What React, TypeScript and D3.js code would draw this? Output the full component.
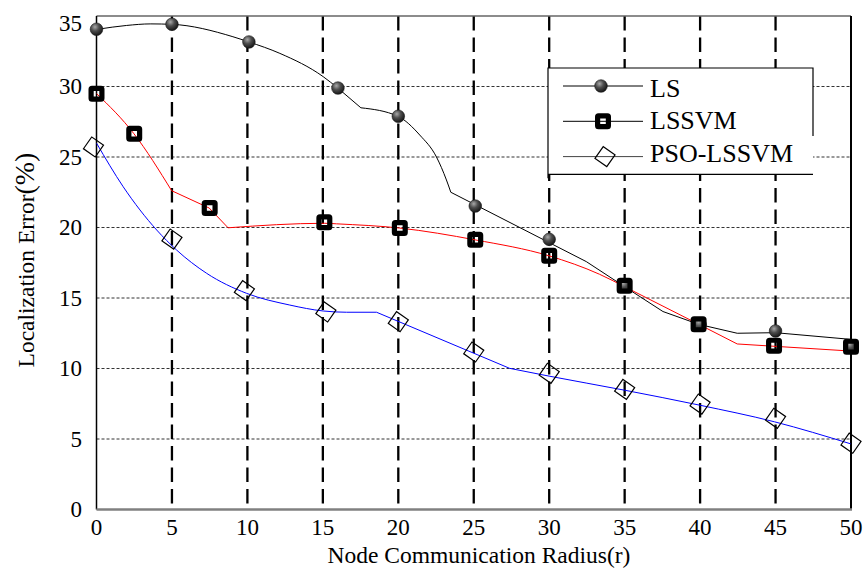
import React from 'react';
import * as d3 from 'd3';

const W = 866;
const H = 571;

const xTickValues = [0, 5, 10, 15, 20, 25, 30, 35, 40, 45, 50];
const yTickValues = [0, 5, 10, 15, 20, 25, 30, 35];
const seriesNames = ['LS', 'LSSVM', 'PSO-LSSVM'];
const xTitle = 'Node Communication Radius(r)';
const yTitleMain = 'Localization Error';
const yTitleUnit = '(%)';

// Marker positions
const lsX = [0, 5, 10.1, 16.0, 20, 25.1, 30, 35, 40, 45, 50];
const lsY = [34.06, 34.41, 33.16, 29.89, 27.89, 21.52, 19.16, 15.87, 13.13, 12.66, 11.55];

const lssvmX = [0, 2.5, 7.5, 15.1, 20.1, 25.1, 30, 35, 39.9, 44.9, 50];
const lssvmY = [29.49, 26.65, 21.38, 20.37, 19.96, 19.13, 18.0, 15.87, 13.13, 11.62, 11.55];

const psoX = [-0.2, 5, 9.8, 15.2, 20, 25, 30, 35, 40, 45, 50];
const psoY = [25.71, 19.18, 15.52, 14.01, 13.32, 11.17, 9.66, 8.52, 7.48, 6.47, 4.7];

// Line vertices (segments; each segment is smoothed, segments meet at kinks)
const lsLine: number[][][] = [
  [[0.08, 34.06], [2.0, 34.33], [3.6, 34.44], [4.98, 34.41], [9.04, 33.53], [10.1, 33.16], [12.15, 32.35], [15.02, 30.7], [15.99, 29.89]],
  [[15.99, 29.89], [17.52, 28.49]],
  [[17.52, 28.49], [19.97, 27.89], [21.42, 26.56], [22.53, 25.0], [23.19, 23.37], [23.48, 22.5]],
  [[23.48, 22.5], [32.46, 17.58]],
  [[32.46, 17.58], [35, 15.8]],
  [[35, 15.8], [37.54, 14.04]],
  [[37.54, 14.04], [39.92, 13.13]],
  [[39.92, 13.13], [42.46, 12.5]],
  [[42.46, 12.5], [44.98, 12.54]],
  [[44.98, 12.54], [49.95, 12.07]],
];

const lssvmLine: number[][][] = [
  [[0.01, 29.49], [2.48, 26.65], [4.98, 22.61]],
  [[4.98, 22.61], [7.47, 21.38]],
  [[7.47, 21.38], [8.72, 19.98]],
  [[8.72, 19.98], [15.13, 20.3], [15.91, 20.26], [20.1, 19.96], [25.11, 19.12], [29.99, 17.99], [33.34, 16.68], [35, 15.8]],
  [[35, 15.8], [39.92, 13.13]],
  [[39.92, 13.13], [42.46, 11.74]],
  [[42.46, 11.74], [49.95, 11.24]],
];

const psoLine: number[][][] = [
  [[0.01, 25.97], [1.77, 22.89], [3.99, 19.82], [5.31, 18.4], [7.3, 16.75], [9.95, 15.33], [12.81, 14.5], [15.02, 14.08], [16.57, 13.99], [18.56, 13.99]],
  [[18.56, 13.99], [27.38, 10.01]],
  [[27.38, 10.01], [29.99, 9.46], [35, 8.46], [39.97, 7.4], [44.93, 6.22], [49.97, 4.66]],
];

const FONT = '"Liberation Serif", "Times New Roman", serif';

function squarePath(s: number, r: number, h: number) {
  const a = s / 2;
  return `M${-a + r},${-a} H${a - r} Q${a},${-a} ${a},${-a + r} V${a - r} Q${a},${a} ${a - r},${a} H${-a + r} Q${-a},${a} ${-a},${a - r} V${-a + r} Q${-a},${-a} ${-a + r},${-a} Z M${-h},${-h} H${h} V${h} H${-h} Z`;
}

const SQ = squarePath(16, 3.5, 2.8);

function Ball({ cx, cy }: { cx: number; cy: number }) {
  return <circle cx={cx} cy={cy} r={6.3} fill="url(#ballGrad)" stroke="#1a1a1a" strokeWidth={0.6} />;
}
function Square({ cx, cy }: { cx: number; cy: number }) {
  return <path d={SQ} transform={`translate(${cx},${cy})`} fill="#000" fillRule="evenodd" />;
}
function Diamond({ cx, cy }: { cx: number; cy: number }) {
  return (
    <rect x={-7.2} y={-7.2} width={14.4} height={14.4} transform={`translate(${cx},${cy}) rotate(35)`}
      fill="none" stroke="#000" strokeWidth={1.2} />
  );
}

export default function App() {
  const x = d3.scaleLinear().domain([0, 50]).range([96.5, 851]);
  const y = d3.scaleLinear().domain([0, 35]).range([509.5, 16]);
  const line = d3.line<number[]>().x((d) => x(d[0])).y((d) => y(d[1])).curve(d3.curveMonotoneX);
  const pathOf = (segs: number[][][]) => segs.map((s) => line(s)).join('');

  const [x0, x1] = x.range();
  const [yb, yt] = y.range();

  const legend = { left: 548, right: 813, top: 68, bottom: 174.3 };
  const legendRows = seriesNames.map((name, i) => ({ name, ly: 86 + i * 35.3, ty: 96.7 + i * 32.5 }));

  return (
    <svg width={W} height={H} style={{ position: 'absolute', left: 0, top: 0, background: '#fff' }} fontFamily={FONT}>
      <defs>
        <radialGradient id="ballGrad" cx="38%" cy="32%" r="70%">
          <stop offset="0%" stopColor="#a8a8a8" />
          <stop offset="45%" stopColor="#4e4e4e" />
          <stop offset="100%" stopColor="#141414" />
        </radialGradient>
      </defs>
      <rect width={W} height={H} fill="#fff" />

      {/* horizontal dotted grid */}
      {yTickValues.filter((v) => v > 0 && v < 35).map((v) => (
        <line key={'h' + v} x1={x0} x2={x1} y1={y(v)} y2={y(v)} stroke="#333" strokeWidth={1} strokeDasharray="3,2" />
      ))}
      {/* vertical heavy dashed grid */}
      {xTickValues.filter((v) => v > 0 && v < 50).map((v) => (
        <line key={'v' + v} x1={x(v)} x2={x(v)} y1={yt} y2={yb} stroke="#000" strokeWidth={2.3} strokeDasharray="14.5,7" />
      ))}

      {/* frame */}
      <line x1={x0} x2={x1} y1={yt} y2={yt} stroke="#666" strokeWidth={1.3} />
      <line x1={x1} x2={x1} y1={yt} y2={yb} stroke="#000" strokeWidth={2} />
      <line x1={x0} x2={x0} y1={yt} y2={yb} stroke="#000" strokeWidth={1.5} />
      <line x1={x0} x2={x1 + 1} y1={yb} y2={yb} stroke="#808080" strokeWidth={2.5} />

      {/* series lines */}
      <path d={pathOf(lsLine)} fill="none" stroke="#000" strokeWidth={1} />
      <path d={pathOf(lssvmLine)} fill="none" stroke="#ff0000" strokeWidth={1} />
      <path d={pathOf(psoLine)} fill="none" stroke="#0000ff" strokeWidth={1} />

      {/* markers */}
      {lsX.map((v, i) => <Ball key={'ls' + i} cx={x(v)} cy={y(lsY[i])} />)}
      {lssvmX.map((v, i) => <Square key={'sv' + i} cx={x(v)} cy={y(lssvmY[i])} />)}
      {psoX.map((v, i) => <Diamond key={'ps' + i} cx={x(v)} cy={y(psoY[i])} />)}

      {/* tick labels */}
      {yTickValues.map((v) => (
        <text key={'yt' + v} x={82} y={Math.max(y(v), 23)} textAnchor="end" dominantBaseline="central" fontSize={23} fill="#000">{v}</text>
      ))}
      {xTickValues.map((v) => (
        <text key={'xt' + v} x={x(v)} y={535} textAnchor="middle" fontSize={23} fill="#000">{v}</text>
      ))}

      {/* axis titles */}
      <text x={479} y={563} textAnchor="middle" fontSize={23.5} fill="#000">{xTitle}</text>
      <text transform="translate(34,260) rotate(-90)" textAnchor="middle" fontSize={23.5} fill="#000">
        {yTitleMain}<tspan fontSize={28}>{yTitleUnit}</tspan>
      </text>

      {/* legend */}
      <rect x={legend.left} y={legend.top} width={legend.right - legend.left} height={legend.bottom - legend.top} fill="#fff" />
      <path d={`M${legend.left},${legend.bottom + 4} V${legend.top} H${legend.right} V${legend.top + 68} M${legend.left},${legend.bottom} H${legend.right}`}
        fill="none" stroke="#000" strokeWidth={1.2} />
      {legendRows.map((r, i) => (
        <g key={'lg' + i}>
          <line x1={563} x2={643} y1={r.ly} y2={r.ly} stroke={i === 2 ? '#444' : '#000'} strokeWidth={1} />
          {i === 0 && <Ball cx={601} cy={r.ly} />}
          {i === 1 && <Square cx={603} cy={r.ly} />}
          {i === 2 && <Diamond cx={605} cy={r.ly} />}
          <text x={650} y={r.ty} fontSize={26} fill="#000">{r.name}</text>
        </g>
      ))}
    </svg>
  );
}
